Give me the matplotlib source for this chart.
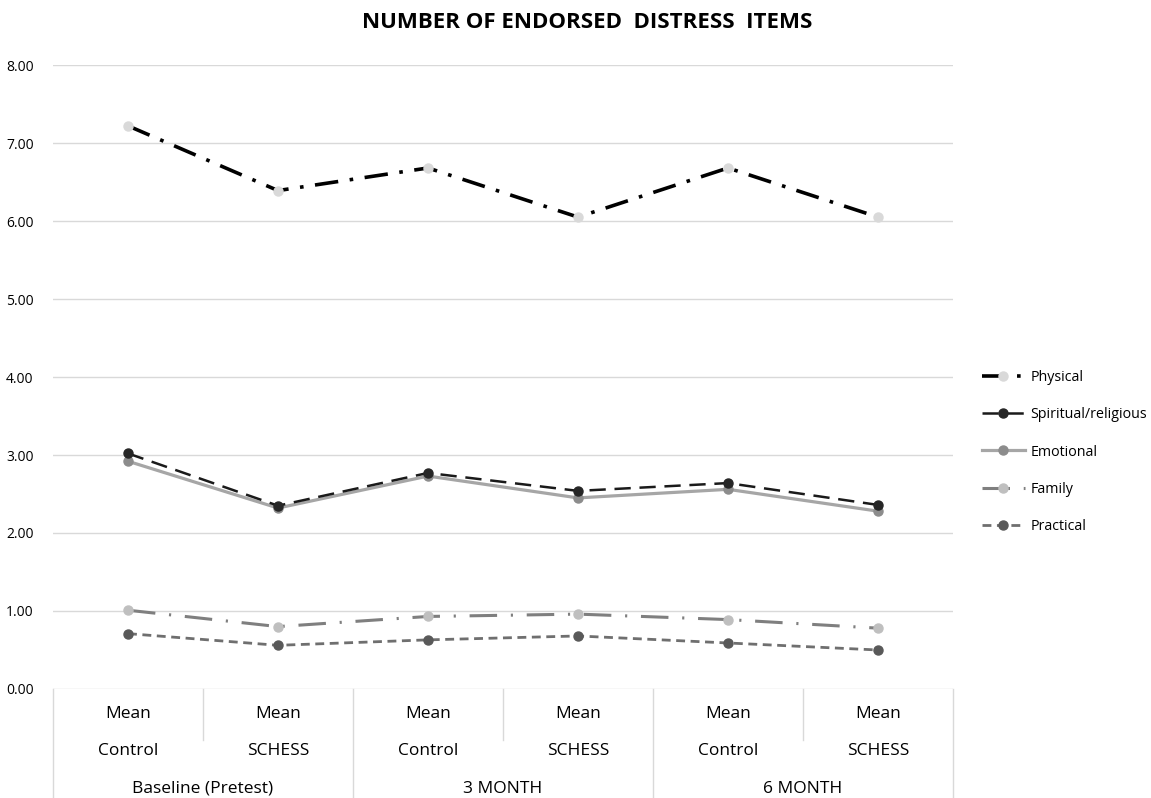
import numpy as np
import matplotlib.pyplot as plt
import matplotlib.transforms as mtransforms

plt.rcParams['font.family'] = ['Open Sans', 'DejaVu Sans']

# chart data
conditions = ['Control', 'SCHESS', 'Control', 'SCHESS', 'Control', 'SCHESS']
timepoints = ['Baseline (Pretest)', '3 MONTH', '6 MONTH']
physical = [7.22, 6.39, 6.68, 6.05, 6.68, 6.05]
spiritual = [3.02, 2.35, 2.77, 2.54, 2.64, 2.36]
emotional = [2.92, 2.32, 2.73, 2.45, 2.56, 2.28]
family = [1.01, 0.80, 0.93, 0.96, 0.89, 0.78]
practical = [0.71, 0.56, 0.63, 0.68, 0.59, 0.50]
yticks = [0, 1, 2, 3, 4, 5, 6, 7, 8]

x = np.arange(len(conditions))

fig = plt.figure(figsize=(11.51, 7.98), dpi=100)
ax = fig.add_axes([53 / 1151, 1 - 689 / 798, 900 / 1151, 624 / 798])

ax.plot(x, physical, color='black', lw=2.6, dashes=(6.5, 3.2, 1, 3.2),
        marker='o', ms=6.5, mfc='#d9d9d9', mec='#d9d9d9', label='Physical', zorder=5)
ax.plot(x, emotional, color='#a6a6a6', lw=2.3,
        marker='o', ms=6.5, mfc='#8c8c8c', mec='#8c8c8c', label='Emotional', zorder=3)
ax.plot(x, spiritual, color='#1a1a1a', lw=1.8, dashes=(6.5, 3.5),
        marker='o', ms=6.5, mfc='#262626', mec='#262626', label='Spiritual/religious', zorder=4)
ax.plot(x, family, color='#7f7f7f', lw=2.2, dashes=(9, 4.5, 0.7, 4.5),
        marker='o', ms=6.5, mfc='#bfbfbf', mec='#bfbfbf', label='Family', zorder=4)
ax.plot(x, practical, color='#6f6f6f', lw=2.0, dashes=(3.2, 2),
        marker='o', ms=6.5, mfc='#595959', mec='#595959', label='Practical', zorder=4)

ax.set_xlim(-0.5, len(conditions) - 0.5)
ax.set_ylim(0, 8)
ax.set_yticks(yticks)
ax.set_yticklabels(['%.2f' % v for v in yticks], fontsize=10)
ax.tick_params(axis='y', length=0, pad=14)
ax.set_xticks([])
for s in ax.spines.values():
    s.set_visible(False)
ax.grid(axis='y', color='#d9d9d9', lw=1)
ax.set_axisbelow(True)

# category table beneath the axis
trans = mtransforms.blended_transform_factory(ax.transData, ax.transAxes)
line_kw = dict(color='#d9d9d9', lw=1, transform=trans, clip_on=False)
for b in np.arange(-0.5, len(conditions), 1.0):
    bottom = -0.175 if b in (-0.5, 1.5, 3.5, 5.5) else -0.082
    ax.plot([b, b], [0, bottom], **line_kw)
for i, c in enumerate(conditions):
    ax.text(i, -0.040, 'Mean', ha='center', va='center', fontsize=12.5, transform=trans)
    ax.text(i, -0.099, c, ha='center', va='center', fontsize=12.5, transform=trans)
for j, t in enumerate(timepoints):
    ax.text(2 * j + 0.5, -0.160, t, ha='center', va='center', fontsize=12.5, transform=trans)

fig.text(587 / 1151, 1 - 22 / 798, 'NUMBER OF ENDORSED  DISTRESS  ITEMS',
         ha='center', va='center', fontsize=16, fontweight='bold')

handles, labels = ax.get_legend_handles_labels()
order = ['Physical', 'Spiritual/religious', 'Emotional', 'Family', 'Practical']
hl = dict(zip(labels, handles))
fig.legend([hl[k] for k in order], order, loc='center left',
           bbox_to_anchor=(982 / 1151, 1 - 452 / 798), frameon=False,
           fontsize=10.3, handlelength=3.0, handletextpad=0.4,
           labelspacing=1.55, borderpad=0, borderaxespad=0)

fig.savefig('out.png', dpi=100)
